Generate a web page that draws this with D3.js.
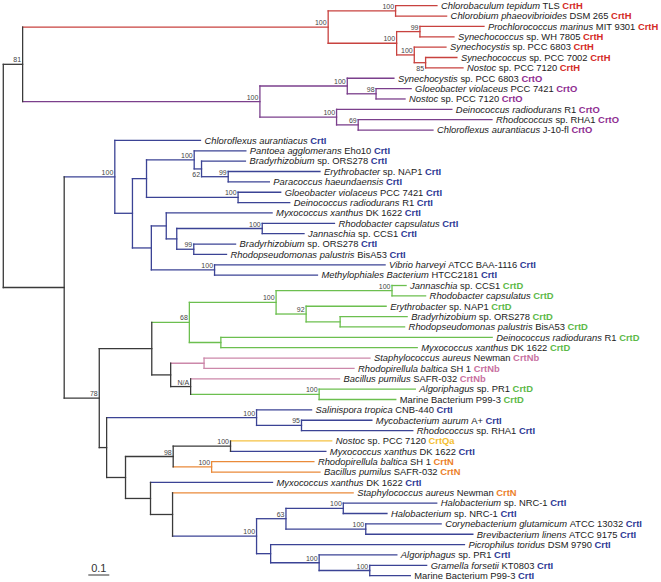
<!DOCTYPE html>
<html><head><meta charset="utf-8">
<script src="https://cdn.jsdelivr.net/npm/d3@7"></script>
<style>body{margin:0;background:#fff;} svg{display:block;background:#fff}</style>
</head><body>
<svg id="chart" width="661" height="582"></svg>
<script>
// Tree topology, branch lengths (substitutions/site) and bootstrap support
const newick = `(
 (
  ((L1:0.197,L2:0.243)100:0.321,((L3:0.305,L4:0.162)99:0.111,(L5:0.151,(L6:0.149,L7:0.178)85:0.054)100:0.084)100:0.326)100:1.455,
  ((L8:0.222,(L9:0.167,L10:0.138)98:0.137)100:0.416,(L11:0.549,(L12:0.637,L13:0.356)69:0.103)100:0.365)100:1.130
 )81:0.092,
 (
  (L14:0.408,(((L15:0.246,(L16:0.209,(L17:0.437,L18:0.196)99:0.127)62:0.035)100:0.227,(L19:0.203,L20:0.246)100:0.436):0.067,((L21:0.504,((L22:0.344,L23:0.199)100:0.407,(L24:0.199,L25:0.156)99:0.081):0.050):0.071,(L26:0.812,L27:0.490)100:0.301):0.090):0.084)100:0.241,
  (
   ((((L28:0.067,L29:0.160)100:0.552,(L30:0.381,(L31:0.319,L32:0.307):0.162)92:0.143)100:0.413,(L33:1.292,L34:0.935):0.150)68:0.179,
    ((L35:0.790,L36:0.714):0.159,(L37:0.709,(L38:0.458,L39:0.365)100:0.612)N/A:0.095):0.090):0.250,
   ((L40:0.262,(L41:0.335,L42:0.530)95:0.214)100:0.714,
    (((L43:0.482,L44:0.454)100:0.273,(L45:0.487,L46:0.516)100:0.183)98:0.227,
     (L47:0.581,(L48:0.860,(((L49:0.445,L50:0.208)100:0.273,(L51:0.359,L52:0.510)100:0.380)63:0.140,(L53:0.923,(L54:0.370,(L55:0.271,L56:0.193)100:0.241)100:0.231):0.067)100:0.400):0.105):0.119):0.090):0.035
  )78:0.167
 ):0.290
);`;

const leafSpecies = [
 "Chlorobaculum tepidum","Chlorobium phaeovibrioides","Prochlorococcus marinus","Synechococcus","Synechocystis","Synechococcus","Nostoc",
 "Synechocystis","Gloeobacter violaceus","Nostoc","Deinococcus radiodurans","Rhodococcus","Chloroflexus aurantiacus",
 "Chloroflexus aurantiacus","Pantoea agglomerans","Bradyrhizobium","Erythrobacter","Paracoccus haeundaensis","Gloeobacter violaceus","Deinococcus radiodurans",
 "Myxococcus xanthus","Rhodobacter capsulatus","Jannaschia","Bradyrhizobium","Rhodopseudomonas palustris","Vibrio harveyi","Methylophiales Bacterium",
 "Jannaschia","Rhodobacter capsulatus","Erythrobacter","Bradyrhizobium","Rhodopseudomonas palustris","Deinococcus radiodurans","Myxococcus xanthus",
 "Staphylococcus aureus","Rhodopirellula baltica","Bacillus pumilus","Algoriphagus","",
 "Salinispora tropica","Mycobacterium aurum","Rhodococcus","Nostoc","Myxococcus xanthus","Rhodopirellula baltica","Bacillus pumilus",
 "Myxococcus xanthus","Staphylococcus aureus","Halobacterium","Halobacterium","Corynebacterium glutamicum","Brevibacterium linens",
 "Picrophilus toridus","Algoriphagus","Gramella forsetii",""
];
const leafStrain = [
 "TLS","DSM 265","MIT 9301","sp. WH 7805","sp. PCC 6803","sp. PCC 7002","sp. PCC 7120",
 "sp. PCC 6803","PCC 7421","sp. PCC 7120","R1","sp. RHA1","J-10-fl",
 "","Eho10","sp. ORS278","sp. NAP1","","PCC 7421","R1",
 "DK 1622","","sp. CCS1","sp. ORS278","BisA53","ATCC BAA-1116","HTCC2181",
 "sp. CCS1","","sp. NAP1","sp. ORS278","BisA53","R1","DK 1622",
 "Newman","SH 1","SAFR-032","sp. PR1","Marine Bacterium P99-3",
 "CNB-440","A+","sp. RHA1","sp. PCC 7120","DK 1622","SH 1","SAFR-032",
 "DK 1622","Newman","sp. NRC-1","sp. NRC-1","ATCC 13032","ATCC 9175",
 "DSM 9790","sp. PR1","KT0803","Marine Bacterium P99-3"
];
const leafGene = [
 "CrtH","CrtH","CrtH","CrtH","CrtH","CrtH","CrtH",
 "CrtO","CrtO","CrtO","CrtO","CrtO","CrtO",
 "CrtI","CrtI","CrtI","CrtI","CrtI","CrtI","CrtI","CrtI","CrtI","CrtI","CrtI","CrtI","CrtI","CrtI",
 "CrtD","CrtD","CrtD","CrtD","CrtD","CrtD","CrtD",
 "CrtNb","CrtNb","CrtNb","CrtD","CrtD",
 "CrtI","CrtI","CrtI","CrtQa","CrtI","CrtN","CrtN",
 "CrtI","CrtN","CrtI","CrtI","CrtI","CrtI","CrtI","CrtI","CrtI","CrtI"
];
const labelsBelow = ["62","85"];
const scaleBarValue = 0.1;

// colours
const lineColor = {CrtH:"#c8423f",CrtO:"#7b3f8c",CrtI:"#3b4395",CrtD:"#6cbf4f",CrtNb:"#cc88aa",CrtQa:"#f5c242",CrtN:"#ea8a3a"};
const textColor = {CrtH:"#d42a26",CrtO:"#8e2d91",CrtI:"#2f3a96",CrtD:"#5cb948",CrtNb:"#c8719f",CrtQa:"#f4be2f",CrtN:"#ec7f2a"};
const mixedColor = "#3a3a3a";

function parseNewick(str){
  const s = str.replace(/\s+/g,"");
  let i = 0;
  function node(){
    const n = {children:[]};
    if (s[i] === "("){
      i++;
      n.children.push(node());
      while (s[i] === ","){ i++; n.children.push(node()); }
      i++;
    }
    let name = "";
    while (i < s.length && !",():;".includes(s[i])) name += s[i++];
    let len = 0;
    if (s[i] === ":"){ i++; let t=""; while (i < s.length && !",();".includes(s[i])) t += s[i++]; len = +t; }
    n.name = name; n.length = len;
    if (!n.children.length) delete n.children;
    return n;
  }
  return node();
}

const root = d3.hierarchy(parseNewick(newick));
root.eachBefore(d => { d.dist = (d.parent ? d.parent.dist : 0) + d.data.length; });

const nLeaves = leafGene.length;
const x = d3.scaleLinear().domain([0, 1]).range([3.3, 213.3]);
const y = d3.scalePoint().domain(d3.range(nLeaves)).range([5.7, 575.7]);

root.eachAfter(d => {
  d.px = x(d.dist);
  if (!d.children){
    d.idx = +d.data.name.slice(1) - 1;
    d.py = y(d.idx);
    d.genes = new Set([leafGene[d.idx]]);
  } else {
    d.py = (d.children[0].py + d.children[d.children.length-1].py) / 2;
    d.genes = new Set();
    d.children.forEach(c => c.genes.forEach(g => d.genes.add(g)));
  }
  d.color = d.genes.size === 1 ? lineColor[[...d.genes][0]] : mixedColor;
});

const svg = d3.select("#chart");
const font = "'Liberation Sans', Arial, sans-serif";
const g = svg.append("g");

// horizontal branches
g.selectAll("line.h").data(root.descendants().filter(d => d.parent)).join("line")
  .attr("class","h")
  .attr("x1", d => d.parent.px).attr("x2", d => d.px)
  .attr("y1", d => d.py).attr("y2", d => d.py)
  .attr("stroke", d => d.color).attr("stroke-width", 1.3).attr("stroke-linecap","square");

// vertical connectors
g.selectAll("line.v").data(root.descendants().filter(d => d.children)).join("line")
  .attr("class","v")
  .attr("x1", d => d.px).attr("x2", d => d.px)
  .attr("y1", d => d.children[0].py).attr("y2", d => d.children[d.children.length-1].py)
  .attr("stroke", d => d.color).attr("stroke-width", 1.3).attr("stroke-linecap","square");

// bootstrap labels
g.selectAll("text.bs").data(root.descendants().filter(d => d.children && d.data.name)).join("text")
  .attr("class","bs")
  .attr("x", d => d.px - 1.5)
  .attr("y", d => labelsBelow.includes(d.data.name) ? d.py + 8.5 : d.py - 2)
  .attr("text-anchor","end")
  .attr("font-family", font).attr("font-size", 7).attr("fill","#444")
  .text(d => d.data.name);

// leaf labels
const leafText = g.selectAll("text.leaf").data(root.leaves()).join("text")
  .attr("class","leaf")
  .attr("x", d => d.px + 4).attr("y", d => d.py).attr("dy","0.35em")
  .attr("font-family", font).attr("font-size", 9.4).attr("fill","#222");
leafText.each(function(d){
  const t = d3.select(this);
  const sp = leafSpecies[d.idx], st = leafStrain[d.idx], ge = leafGene[d.idx];
  let started = false;
  if (sp){ t.append("tspan").attr("font-style","italic").text(sp); started = true; }
  if (st){ t.append("tspan").text((started ? "\u00a0" : "") + st); started = true; }
  t.append("tspan").attr("font-weight","bold").attr("fill", textColor[ge]).text("\u00a0" + ge);
});

// scale bar
const sbX = 88.3, sbY = 575;
const sbW = x(scaleBarValue) - x(0);
svg.append("line").attr("x1", sbX).attr("x2", sbX + sbW).attr("y1", sbY).attr("y2", sbY)
  .attr("stroke","#333").attr("stroke-width",1);
svg.append("text").attr("x", sbX + sbW/2).attr("y", sbY - 3).attr("text-anchor","middle")
  .attr("font-family", font).attr("font-size", 11).attr("fill","#333").text(scaleBarValue);
</script>
</body></html>
